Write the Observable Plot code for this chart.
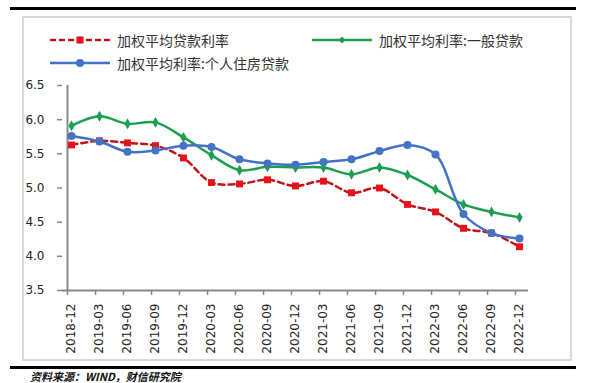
<!DOCTYPE html>
<html>
<head>
<meta charset="utf-8">
<script src="https://cdn.jsdelivr.net/npm/d3@7"></script>
<script src="https://cdn.jsdelivr.net/npm/@observablehq/plot@0.6"></script>
<style>
  html, body { margin: 0; padding: 0; background: #fff; }
  #wrap { position: relative; width: 599px; height: 383px; overflow: hidden; background: #fff; }
  #chart { position: absolute; left: 0; top: 0; }
  .bar { position: absolute; left: 10px; width: 566px; height: 3px; background: #000; }
  #box { position: absolute; left: 22px; top: 16px; width: 546px; height: 341px; border: 2px solid #d9d9d9; }
  .leg { position: absolute; display: flex; align-items: center; font-family: "Noto Sans CJK SC", sans-serif; font-size: 14px; color: #333; white-space: nowrap; }
  .leg svg { margin-right: 6px; }
  #src { position: absolute; left: 30px; top: 370px; font-family: "Noto Sans CJK SC", sans-serif; font-size: 11px; font-weight: bold; font-style: italic; color: #111; white-space: nowrap; line-height: 12px; }
  #chart svg text { font-family: "DejaVu Sans", sans-serif; font-size: 12px; }
</style>
</head>
<body>
<div id="wrap">
  <div class="bar" style="top:7px"></div>
  <div id="box"></div>
  <div id="chart"></div>
  <div class="leg" style="left:50px; top:30px">
    <svg width="61" height="20"><line x1="0" y1="10" x2="60" y2="10" stroke="#c0141b" stroke-width="2.5" stroke-dasharray="6,3"/><rect x="26.5" y="6.5" width="7" height="7" fill="#e8121a"/></svg>加权平均贷款利率</div>
  <div class="leg" style="left:312px; top:30px">
    <svg width="61" height="20"><line x1="0" y1="10" x2="60" y2="10" stroke="#1e9e50" stroke-width="2.5"/><path d="M30,6.5L33.5,10L30,13.5L26.5,10Z" fill="#1e9e50"/></svg>加权平均利率:一般贷款</div>
  <div class="leg" style="left:50px; top:53px">
    <svg width="61" height="20"><line x1="0" y1="10" x2="60" y2="10" stroke="#4472c4" stroke-width="2.5"/><circle cx="30" cy="10" r="4" fill="#4472c4"/></svg>加权平均利率:个人住房贷款</div>
  <div class="bar" style="top:366px"></div>
  <div id="src">资料来源：WIND，财信研究院</div>
</div>
<script>
const dates = ["2018-12","2019-03","2019-06","2019-09","2019-12","2020-03","2020-06","2020-09","2020-12","2021-03","2021-06","2021-09","2021-12","2022-03","2022-06","2022-09","2022-12"];
const loanRate    = [5.63,5.69,5.66,5.62,5.44,5.08,5.06,5.12,5.03,5.10,4.93,5.00,4.76,4.65,4.41,4.34,4.14];
const generalRate = [5.91,6.05,5.94,5.96,5.74,5.48,5.26,5.31,5.30,5.30,5.20,5.30,5.19,4.98,4.76,4.65,4.57];
const housingRate = [5.76,5.68,5.53,5.55,5.62,5.60,5.42,5.36,5.34,5.38,5.42,5.54,5.63,5.49,4.62,4.34,4.26];
const yTicks = [3.5,4.0,4.5,5.0,5.5,6.0,6.5];

const red = dates.map((d,i) => ({date: d, value: loanRate[i]}));
const green = dates.map((d,i) => ({date: d, value: generalRate[i]}));
const blue = dates.map((d,i) => ({date: d, value: housingRate[i]}));

const chart = Plot.plot({
  width: 599,
  height: 383,
  marginTop: 85,
  marginBottom: 93,
  marginLeft: 62,
  marginRight: 71,
  style: {fontFamily: "DejaVu Sans, sans-serif", fontSize: "12px", color: "#222", background: "transparent"},
  x: {type: "point", domain: dates, padding: 0, insetLeft: 4, insetRight: 5, label: null},
  y: {domain: [3.5, 6.5], label: null},
  marks: [
    Plot.ruleY([3.5], {stroke: "#888", strokeWidth: 2}),
    Plot.ruleX([dates[0]], {dx: -4, stroke: "#888", strokeWidth: 2}),
    Plot.axisY({ticks: yTicks, tickFormat: d => d.toFixed(1), tickSize: 5, tickPadding: 13, stroke: "#888", strokeWidth: 1.5, fill: "#222", label: null}),
    Plot.axisX({tickSize: 5, tickFormat: () => "", dx: -4, stroke: "#888", strokeWidth: 1.5, label: null}),
    Plot.axisX({tickSize: 0, tickRotate: -90, tickPadding: 13, fill: "#222", label: null}),
    Plot.lineY(red, {x: "date", y: "value", stroke: "#c0141b", strokeWidth: 2.5, strokeDasharray: "6,4", curve: "catmull-rom"}),
    Plot.dot(red, {x: "date", y: "value", symbol: "square", r: 3.9, fill: "#e8121a"}),
    Plot.lineY(green, {x: "date", y: "value", stroke: "#1e9e50", strokeWidth: 2.5, curve: "catmull-rom"}),
    Plot.dot(green, {x: "date", y: "value", symbol: "diamond", r: 3.3, fill: "#1e9e50"}),
    Plot.lineY(blue, {x: "date", y: "value", stroke: "#4472c4", strokeWidth: 2.5, curve: "catmull-rom"}),
    Plot.dot(blue, {x: "date", y: "value", symbol: "circle", r: 4, fill: "#4472c4"})
  ]
});
document.getElementById("chart").appendChild(chart);
</script>
</body>
</html>
